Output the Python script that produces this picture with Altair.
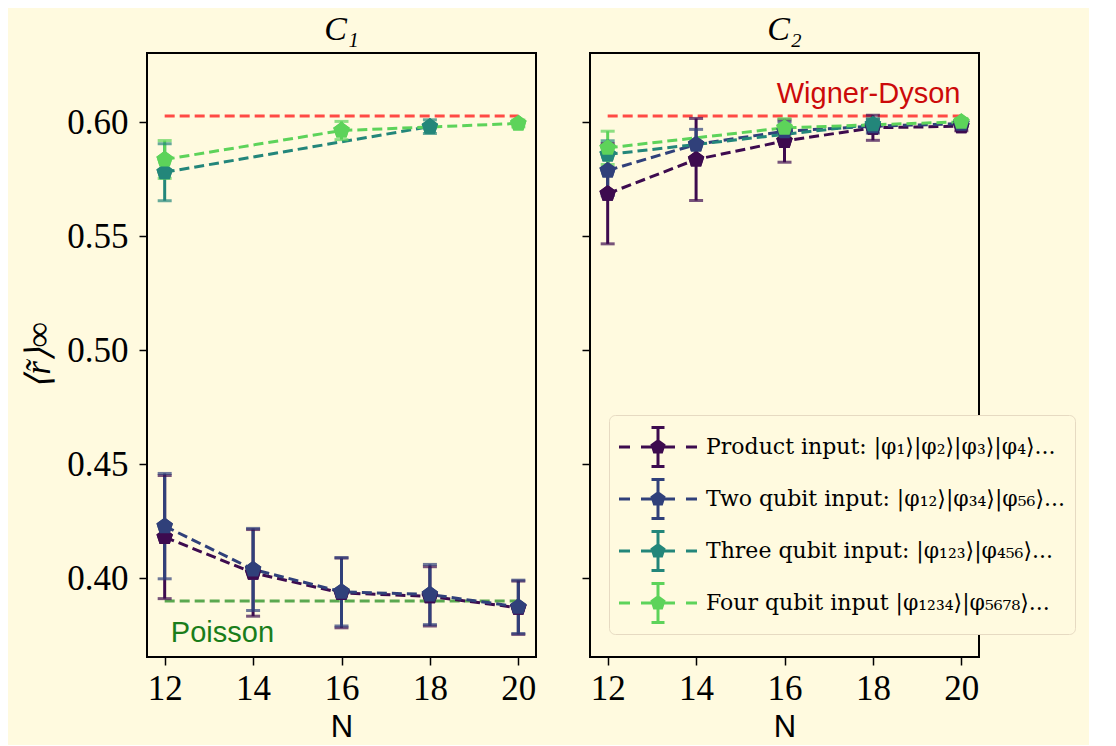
import altair as alt
import pandas as pd

# ---------------- data ----------------
series_names = [
    "Product input: |φ₁⟩|φ₂⟩|φ₃⟩|φ₄⟩...",
    "Two qubit input: |φ₁₂⟩|φ₃₄⟩|φ₅₆⟩...",
    "Three qubit input: |φ₁₂₃⟩|φ₄₅₆⟩...",
    "Four qubit input |φ₁₂₃₄⟩|φ₅₆₇₈⟩...",
]
series_colors = ["#3d0b4f", "#30407a", "#23867a", "#5dd35a"]
panel_titles = ["C₁", "C₂"]

# Panel C1
c1_product_N = [12, 14, 16, 18, 20]
c1_product_r = [0.418, 0.4023, 0.3935, 0.392, 0.387]
c1_product_e = [0.027, 0.019, 0.0153, 0.013, 0.0117]
c1_two_N = [12, 14, 16, 18, 20]
c1_two_r = [0.4228, 0.4038, 0.394, 0.3928, 0.3874]
c1_two_e = [0.0231, 0.018, 0.015, 0.0132, 0.0117]
c1_three_N = [12, 18]
c1_three_r = [0.578, 0.598]
c1_three_e = [0.0125, 0.003]
c1_four_N = [12, 16, 20]
c1_four_r = [0.5836, 0.5963, 0.5994]
c1_four_e = [0.0083, 0.004, 0.0015]

# Panel C2
c2_product_N = [12, 14, 16, 18, 20]
c2_product_r = [0.5686, 0.5836, 0.5917, 0.5975, 0.5982]
c2_product_e = [0.022, 0.018, 0.0093, 0.0055, 0.002]
c2_two_N = [12, 14, 16, 18, 20]
c2_two_r = [0.5788, 0.5902, 0.596, 0.5982, 0.5993]
c2_two_e = [0.011, 0.0066, 0.004, 0.003, 0.0015]
c2_three_N = [12, 18]
c2_three_r = [0.5858, 0.599]
c2_three_e = [0.006, 0.0025]
c2_four_N = [12, 16, 20]
c2_four_r = [0.5887, 0.5975, 0.6001]
c2_four_e = [0.0073, 0.004, 0.0015]

# reference levels
wigner_dyson = 0.6027
poisson = 0.39
ref_N = [12, 20]

x_ticks = [12, 14, 16, 18, 20]
y_ticks = [0.40, 0.45, 0.50, 0.55, 0.60]

# ---------------- table ----------------
panels = {
    "C1": [(c1_product_N, c1_product_r, c1_product_e),
           (c1_two_N, c1_two_r, c1_two_e),
           (c1_three_N, c1_three_r, c1_three_e),
           (c1_four_N, c1_four_r, c1_four_e)],
    "C2": [(c2_product_N, c2_product_r, c2_product_e),
           (c2_two_N, c2_two_r, c2_two_e),
           (c2_three_N, c2_three_r, c2_three_e),
           (c2_four_N, c2_four_r, c2_four_e)],
}

def table(panel):
    rows = []
    for k, (ns, rs, es) in enumerate(panels[panel]):
        for n, r, e in zip(ns, rs, es):
            rows.append({"series": series_names[k], "order": k, "N": n, "r": r,
                         "lo": r - e, "hi": r + e})
    return pd.DataFrame(rows)

SERIF = "Liberation Serif"
SANS = "Liberation Sans"
BG = "#fffadf"

PENTAGON = "M0,-1 L0.951,-0.309 L0.588,0.809 L-0.588,0.809 L-0.951,-0.309 Z"

# legend handle: dashed line, error bar with caps, pentagon marker (unit = 22 px)
LEGEND_PATH = (
    "M-1,-0.068 L-0.5,-0.068 L-0.5,0.068 L-1,0.068 Z "
    "M0,-0.068 L0.5,-0.068 L0.5,0.068 L0,0.068 Z "
    "M1.045,-0.068 L1.545,-0.068 L1.545,0.068 L1.045,0.068 Z "
    "M2.045,-0.068 L2.545,-0.068 L2.545,0.068 L2.045,0.068 Z "
    "M0.705,-0.886 L0.841,-0.886 L0.841,0.886 L0.705,0.886 Z "
    "M0.478,-0.954 L1.068,-0.954 L1.068,-0.818 L0.478,-0.818 Z "
    "M0.478,0.818 L1.068,0.818 L1.068,0.954 L0.478,0.954 Z "
    "M0.773,-0.364 L1.119,-0.112 L0.987,0.294 L0.559,0.294 L0.427,-0.112 Z"
)

xscale = alt.Scale(domain=[11.6, 20.4], nice=False, zero=False)
yscale = alt.Scale(domain=[0.3654, 0.6303], nice=False, zero=False)
cscale = alt.Scale(domain=series_names, range=series_colors)

W, H = 389, 604
LW = 3


def panel_chart(pi, panel):
    df = table(panel)
    left = pi == 0
    yaxis = alt.Axis(values=y_ticks, format=".2f", labels=left,
                     title="⟨r̃⟩∞" if left else None, grid=False, domain=False,
                     tickSize=8, tickWidth=1.5, tickColor="black",
                     labelFont=SERIF, labelFontSize=35, labelColor="black", labelPadding=11,
                     titleFont=SERIF, titleFontSize=35, titleFontWeight="normal",
                     titleColor="black", titlePadding=10, titleFontStyle="italic")
    xaxis = alt.Axis(values=x_ticks, format="d", grid=False, domain=False,
                     tickSize=8, tickWidth=1.5, tickColor="black",
                     labelFont=SERIF, labelFontSize=35, labelColor="black", labelPadding=6,
                     title="N", titleFont=SANS, titleFontSize=31, titleFontWeight="normal",
                     titleColor="black", titlePadding=6)
    base = alt.Chart(df)
    X = alt.X("N:Q", scale=xscale, axis=xaxis)

    leg = None
    if not left:
        leg = alt.Legend(title=None, orient="none", legendX=19, legendY=362,
                         symbolType=LEGEND_PATH, symbolSize=44 * 44, symbolStrokeWidth=0,
                         symbolOpacity=1,
                         labelFont="DejaVu Serif", labelFontSize=22, labelColor="black",
                         labelLimit=700, labelOffset=43, rowPadding=9, padding=10,
                         fillColor=BG, strokeColor="#e6dac2", cornerRadius=6)

    col_noleg = alt.Color("series:N", scale=cscale, legend=None)
    col_leg = alt.Color("series:N", scale=cscale, legend=leg) if leg else col_noleg

    def pts(color):
        return base.mark_point(shape=PENTAGON, filled=True, size=300, opacity=1).encode(
            x=X, y=alt.Y("r:Q", scale=yscale, axis=yaxis), color=color)

    def ref_rule(v, color):
        return alt.Chart(pd.DataFrame({"N": [ref_N[0]], "N2": [ref_N[1]], "v": [v]})).mark_rule(
            strokeDash=[10, 5], strokeWidth=LW, color=color).encode(
            x=alt.X("N:Q", scale=xscale, axis=xaxis), x2="N2:Q",
            y=alt.Y("v:Q", scale=yscale, axis=yaxis))

    layers = [pts(col_leg), ref_rule(wigner_dyson, "#ff4a45")]
    if left:
        layers.append(ref_rule(poisson, "#5aa84f"))

    lines = base.mark_line(strokeDash=[10, 5], strokeWidth=LW).encode(
        x=X, y=alt.Y("r:Q", scale=yscale), color=col_noleg, order="N:Q",
        detail="series:N")
    bars = base.mark_rule(strokeWidth=LW).encode(
        x=X, y=alt.Y("lo:Q", scale=yscale), y2="hi:Q", color=col_noleg)
    caps = base.transform_fold(["lo", "hi"], as_=["end", "val"]).mark_tick(
        orient="horizontal", size=14, thickness=LW).encode(
        x=X, y=alt.Y("val:Q", scale=yscale), color=col_noleg)

    layers += [lines, bars, caps, pts(col_noleg)]
    if left:
        ptxt = alt.Chart(pd.DataFrame({"N": [12.14], "v": [0.3719], "t": ["Poisson"]})).mark_text(
            font=SANS, fontSize=29, color="#1a7d1a", align="left", baseline="alphabetic").encode(
            x=alt.X("N:Q", scale=xscale), y=alt.Y("v:Q", scale=yscale), text="t:N")
        layers.append(ptxt)
    else:
        wtxt = alt.Chart(pd.DataFrame({"N": [19.98], "v": [0.6085], "t": ["Wigner-Dyson"]})).mark_text(
            font=SANS, fontSize=29, color="#cc0a0a", align="right", baseline="alphabetic").encode(
            x=alt.X("N:Q", scale=xscale), y=alt.Y("v:Q", scale=yscale), text="t:N")
        layers.append(wtxt)

    return alt.layer(*layers).properties(
        width=W, height=H,
        title=alt.Title(panel_titles[pi], font=SERIF, fontSize=34, fontStyle="italic",
                        fontWeight="normal", color="black", offset=6),
    )


chart = alt.hconcat(panel_chart(0, "C1"), panel_chart(1, "C2"), spacing=43).resolve_scale(
    color="independent"
).configure(
    background=BG,
    padding={"left": 12, "top": 4, "right": 12, "bottom": 2},
).configure_view(
    stroke="black", strokeWidth=2, fill=BG
)

chart.save("out.html", embed_options={"renderer": "svg", "actions": False})
